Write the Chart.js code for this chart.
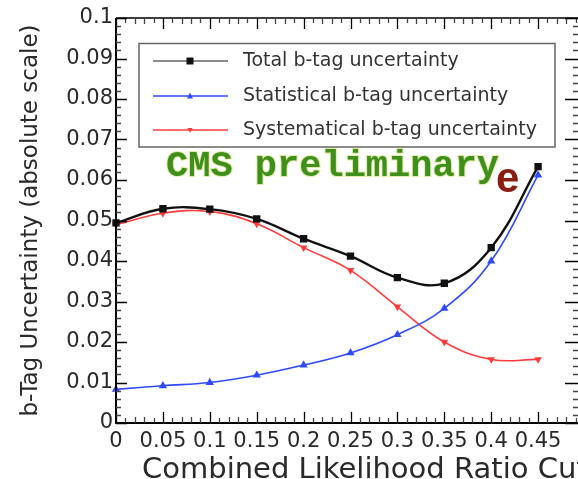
<!DOCTYPE html>
<html><head><meta charset="utf-8">
<script src="https://cdn.jsdelivr.net/npm/chart.js@4.4.0/dist/chart.umd.min.js"></script>
<style>
html,body{margin:0;padding:0;overflow:hidden;background:#fff;width:578px;height:479px}
#wrap{position:absolute;left:0;top:0;width:600px;height:479px}
</style>
</head><body><div id="wrap"><canvas id="c" width="600" height="479"></canvas></div>
<script>
// ---- data ----
const cuts      = [0, 0.05, 0.1, 0.15, 0.2, 0.25, 0.3, 0.35, 0.4, 0.45];
const totalUnc  = [0.0494, 0.0529, 0.0528, 0.0504, 0.0455, 0.0412, 0.0359, 0.0345, 0.0433, 0.0633];
const statUnc   = [0.0083, 0.0092, 0.0100, 0.0118, 0.0143, 0.0173, 0.0218, 0.0283, 0.0400, 0.0612];
const systUnc   = [0.0490, 0.0518, 0.0522, 0.0492, 0.0433, 0.0377, 0.0287, 0.0200, 0.0157, 0.0157];
const seriesLabels = ['Total b-tag uncertainty', 'Statistical b-tag uncertainty', 'Systematical b-tag uncertainty'];
const xTickValues = [0, 0.05, 0.1, 0.15, 0.2, 0.25, 0.3, 0.35, 0.4, 0.45];
const xTickLabels = ['0', '0.05', '0.1', '0.15', '0.2', '0.25', '0.3', '0.35', '0.4', '0.45'];
const yTickValues = [0, 0.01, 0.02, 0.03, 0.04, 0.05, 0.06, 0.07, 0.08, 0.09, 0.1];
const yTickLabels = ['0', '0.01', '0.02', '0.03', '0.04', '0.05', '0.06', '0.07', '0.08', '0.09', '0.1'];
const xAxisTitle = 'Combined Likelihood Ratio Cut';
const yAxisTitle = 'b-Tag Uncertainty (absolute scale)';
const watermark = 'CMS preliminary';
const channelTag = 'e';

function pts(ys) { return cuts.map((x, i) => ({ x: x, y: ys[i] })); }

const BLACK = '#111111', BLUE = '#2f4bff', RED = '#ff3b3b';

function drawMarker(ctx, style, x, y, r, color) {
  ctx.save();
  ctx.fillStyle = color;
  ctx.beginPath();
  if (style === 'rect') {
    ctx.rect(x - r, y - r, 2 * r, 2 * r);
  } else if (style === 'tri') {
    ctx.moveTo(x, y - r * 1.2); ctx.lineTo(x + r, y + r * 0.8); ctx.lineTo(x - r, y + r * 0.8); ctx.closePath();
  } else {
    ctx.moveTo(x, y + r * 1.2); ctx.lineTo(x + r, y - r * 0.8); ctx.lineTo(x - r, y - r * 0.8); ctx.closePath();
  }
  ctx.fill();
  ctx.restore();
}

const framePlugin = {
  id: 'frame',
  afterDraw(chart) {
    const ctx = chart.ctx;
    const xs = chart.scales.x, ys = chart.scales.y;
    const a = chart.chartArea;
    ctx.save();
    // frame
    ctx.strokeStyle = '#000';
    ctx.lineWidth = 2;
    ctx.beginPath();
    ctx.moveTo(a.left, a.top); ctx.lineTo(a.left, a.bottom); ctx.lineTo(a.right, a.bottom);
    ctx.stroke();
    ctx.lineWidth = 1.6;
    ctx.beginPath();
    ctx.moveTo(a.left, a.top); ctx.lineTo(a.right, a.top); ctx.lineTo(a.right, a.bottom);
    ctx.stroke();
    // x ticks (bottom and top, pointing inward)
    ctx.lineWidth = 1.3;
    for (let k = 0; k <= 50; k++) {
      const v = k / 100;
      const px = Math.round(xs.getPixelForValue(v)) + 0.5;
      const major = k % 5 === 0;
      const len = major ? 11 : (k % 5 === 2 || k % 5 === 3 ? 6 : 5);
      ctx.strokeStyle = major ? '#000' : '#444';
      ctx.beginPath();
      ctx.moveTo(px, a.bottom); ctx.lineTo(px, a.bottom - len);
      ctx.moveTo(px, a.top); ctx.lineTo(px, a.top + len);
      ctx.stroke();
    }
    // y ticks (left and right)
    for (let k = 0; k <= 50; k++) {
      const v = k / 500;
      const py = Math.round(ys.getPixelForValue(v)) + 0.5;
      const major = k % 5 === 0;
      ctx.strokeStyle = major ? '#000' : '#444';
      ctx.beginPath();
      ctx.moveTo(a.left, py); ctx.lineTo(a.left + (major ? 11 : 5), py);
      ctx.moveTo(a.right, py); ctx.lineTo(a.right - (major ? 20 : 12), py);
      ctx.stroke();
    }
    // x axis title
    ctx.fillStyle = '#2a2a2a';
    ctx.font = '29px "DejaVu Sans"';
    ctx.textAlign = 'left';
    ctx.textBaseline = 'alphabetic';
    ctx.fillText(xAxisTitle, 142, 478);
    // legend
    const lx = 139, ly = 43.5, lw = 416, lh = 103.5;
    ctx.fillStyle = '#fff';
    ctx.fillRect(lx, ly, lw, lh);
    ctx.strokeStyle = '#666';
    ctx.lineWidth = 1.5;
    ctx.strokeRect(lx, ly, lw, lh);
    const rows = [61, 96, 130];
    const lineCols = ['#666', BLUE, RED];
    const mk = ['rect', 'tri', 'tri2'];
    const mkc = [BLACK, BLUE, RED];
    const mkr = [3.5, 3, 2.6];
    chart.data.datasets.forEach((ds, i) => {
      const y = rows[i];
      ctx.strokeStyle = lineCols[i];
      ctx.lineWidth = 1.4;
      ctx.beginPath(); ctx.moveTo(153, y); ctx.lineTo(228, y); ctx.stroke();
      drawMarker(ctx, mk[i], 190, y, mkr[i], mkc[i]);
      ctx.fillStyle = '#333';
      ctx.font = '19px "DejaVu Sans"';
      ctx.textBaseline = 'middle';
      ctx.textAlign = 'left';
      ctx.fillText(ds.label, 243, y);
    });
    // CMS preliminary
    ctx.font = 'bold 37px "Liberation Mono"';
    ctx.textBaseline = 'alphabetic';
    ctx.lineWidth = 2;
    ctx.strokeStyle = 'rgba(210,220,110,0.6)';
    ctx.strokeText(watermark, 166, 176);
    ctx.fillStyle = '#3f8f1c';
    ctx.fillText(watermark, 166, 176);
    // channel tag
    ctx.font = 'bold 42px "Liberation Sans"';
    ctx.fillStyle = '#8b1c12';
    ctx.fillText(channelTag, 496, 192);
    ctx.restore();
  }
};

new Chart(document.getElementById('c'), {
  type: 'line',
  data: {
    datasets: [
      { label: seriesLabels[0], data: pts(totalUnc), borderColor: BLACK, backgroundColor: BLACK,
        borderWidth: 2.4, pointStyle: 'rect', pointRadius: 3.5, tension: 0.4, clip: 8, order: 1 },
      { label: seriesLabels[1], data: pts(statUnc), borderColor: BLUE, backgroundColor: BLUE,
        borderWidth: 1.6, pointStyle: 'triangle', pointRadius: 3.2, tension: 0.4, clip: 8, order: 2 },
      { label: seriesLabels[2], data: pts(systUnc), borderColor: RED, backgroundColor: RED,
        borderWidth: 1.6, pointStyle: 'triangle', pointRotation: 180, pointRadius: 2.8, tension: 0.4, clip: 8, order: 3 }
    ]
  },
  options: {
    responsive: false,
    animation: false,
    devicePixelRatio: 1,
    layout: { padding: { left: 0, right: 15, top: 18, bottom: 0 } },
    plugins: { legend: { display: false }, tooltip: { enabled: false } },
    scales: {
      x: {
        type: 'linear', min: 0, max: 0.5,
        grid: { display: false, drawTicks: false },
        border: { display: false },
        afterBuildTicks: (s) => { s.ticks = xTickValues.map(v => ({ value: v })); },
        afterFit: (s) => { s.height = 56; },
        ticks: {
          autoSkip: false, maxRotation: 0, padding: 6, color: '#2a2a2a',
          font: { family: 'DejaVu Sans', size: 21 },
          callback: (v, i) => xTickLabels[i]
        },
        title: { display: false }
      },
      y: {
        type: 'linear', min: 0, max: 0.1,
        grid: { display: false, drawTicks: false },
        border: { display: false },
        afterBuildTicks: (s) => { s.ticks = yTickValues.map(v => ({ value: v })); },
        afterFit: (s) => { s.width = 116; },
        ticks: {
          autoSkip: false, padding: 3, color: '#2a2a2a',
          font: { family: 'DejaVu Sans', size: 21 },
          callback: (v, i) => yTickLabels[i]
        },
        title: { display: true, text: yAxisTitle, color: '#2a2a2a', padding: { top: 17, bottom: 0 },
          font: { family: 'DejaVu Sans', size: 23 } }
      }
    }
  },
  plugins: [framePlugin]
});
</script>
</body></html>
